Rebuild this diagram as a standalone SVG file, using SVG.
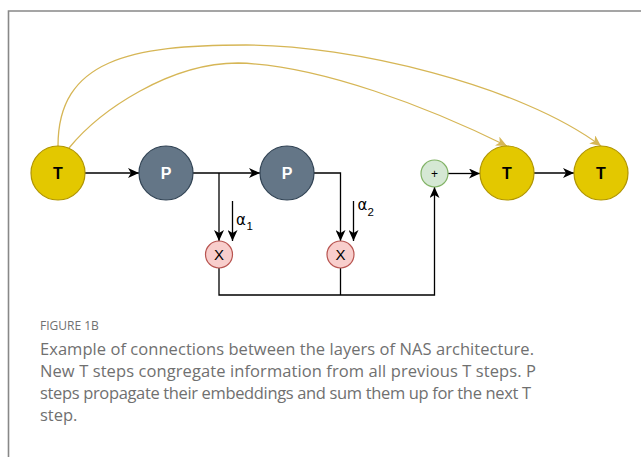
<svg xmlns="http://www.w3.org/2000/svg" width="641" height="457" viewBox="0 0 641 457">
<style>
.t{fill:#e3c800;stroke:#b09500;stroke-width:1.2}
.p{fill:#647687;stroke:#314354;stroke-width:1.2}
.x{fill:#f8cecc;stroke:#b85450;stroke-width:1.2}
.s{fill:#d5e8d4;stroke:#82b366;stroke-width:1.2}
.lbl{font-family:"Liberation Sans",Arial,sans-serif;text-anchor:middle}
.bold{font-weight:bold;font-size:16px}
.e{fill:none;stroke:#000;stroke-width:1.3}
.c{fill:none;stroke:#d6b656;stroke-width:1.3}
.cap{font-family:"Open Sans","Liberation Sans",sans-serif;fill:#707070}
</style>
<defs>
<marker id="a" viewBox="0 0 11 10" refX="11" refY="5" markerWidth="11" markerHeight="10" markerUnits="userSpaceOnUse" orient="auto">
<path d="M0,0 L11,5 L0,10 L3,5 Z" fill="#000"/>
</marker>
<marker id="ay" viewBox="0 0 11 10" refX="11" refY="5" markerWidth="11" markerHeight="10" markerUnits="userSpaceOnUse" orient="auto">
<path d="M0,0 L11,5 L0,10 L3,5 Z" fill="#d6b656"/>
</marker>
</defs>
<path d="M8.5,457 V11 H641" fill="none" stroke="#888" stroke-width="1.6"/>
<g id="connectors">
<path class="e" d="M85,173 H139" marker-end="url(#a)"/>
<path class="e" d="M193,173 H260" marker-end="url(#a)"/>
<path class="e" d="M219,173 V241" marker-end="url(#a)"/>
<path class="e" d="M314,173 H340.5 V241" marker-end="url(#a)"/>
<path class="e" d="M232.5,201 V241" marker-end="url(#a)"/>
<path class="e" d="M353.5,201 V241" marker-end="url(#a)"/>
<path class="e" d="M219,268 V295 H434.5 V187" marker-end="url(#a)"/>
<path class="e" d="M340.5,268 V295"/>
<path class="e" d="M448,173.5 H480" marker-end="url(#a)"/>
<path class="e" d="M534,173 H574" marker-end="url(#a)"/>
<path class="c" d="M58,146 C58,60 130,45 246,45 C350,45 520,85 601,146" marker-end="url(#ay)"/>
<path class="c" d="M69,148 C100,110 170,63 238,63 C320,65 430,108 507,146" marker-end="url(#ay)"/>
</g>
<g id="T1"><circle class="t" cx="58" cy="173" r="27"/><text class="lbl bold" x="58" y="179">T</text></g>
<g id="P1"><circle class="p" cx="166" cy="173" r="27"/><text class="lbl bold" x="166" y="179" fill="#fff">P</text></g>
<g id="P2"><circle class="p" cx="287" cy="173" r="27"/><text class="lbl bold" x="287" y="179" fill="#fff">P</text></g>
<g id="X1"><circle class="x" cx="219" cy="254.5" r="13.5"/><text class="lbl" x="219" y="260" font-size="15">X</text></g>
<g id="X2"><circle class="x" cx="340.5" cy="254.5" r="13.5"/><text class="lbl" x="340.5" y="260" font-size="15">X</text></g>
<g id="sum"><circle class="s" cx="434.5" cy="173.5" r="13.5"/><text class="lbl" x="434.5" y="177.5" font-size="12">+</text></g>
<g id="T3"><circle class="t" cx="507" cy="173" r="27"/><text class="lbl bold" x="507" y="179">T</text></g>
<g id="T4"><circle class="t" cx="601" cy="173" r="27"/><text class="lbl bold" x="601" y="179">T</text></g>
<g id="alpha1"><text font-family="'DejaVu Sans',sans-serif" font-size="15" x="236" y="224.5">α</text><text font-family="'Liberation Sans',sans-serif" font-size="11.5" x="246.5" y="229.5">1</text></g>
<g id="alpha2"><text font-family="'DejaVu Sans',sans-serif" font-size="15" x="357.5" y="210">α</text><text font-family="'Liberation Sans',sans-serif" font-size="11.5" x="367.5" y="215.5">2</text></g>
<g id="caption">
<text class="cap" x="40" y="330" font-size="12">FIGURE 1B</text>
<text class="cap" x="40" y="355" font-size="16.5" textLength="494" lengthAdjust="spacing">Example of connections between the layers of NAS architecture.</text>
<text class="cap" x="40" y="377" font-size="16.5" textLength="496" lengthAdjust="spacing">New T steps congregate information from all previous T steps. P</text>
<text class="cap" x="40" y="399" font-size="16.5" textLength="491" lengthAdjust="spacing">steps propagate their embeddings and sum them up for the next T</text>
<text class="cap" x="40" y="421" font-size="16.5">step.</text>
</g>
</svg>
